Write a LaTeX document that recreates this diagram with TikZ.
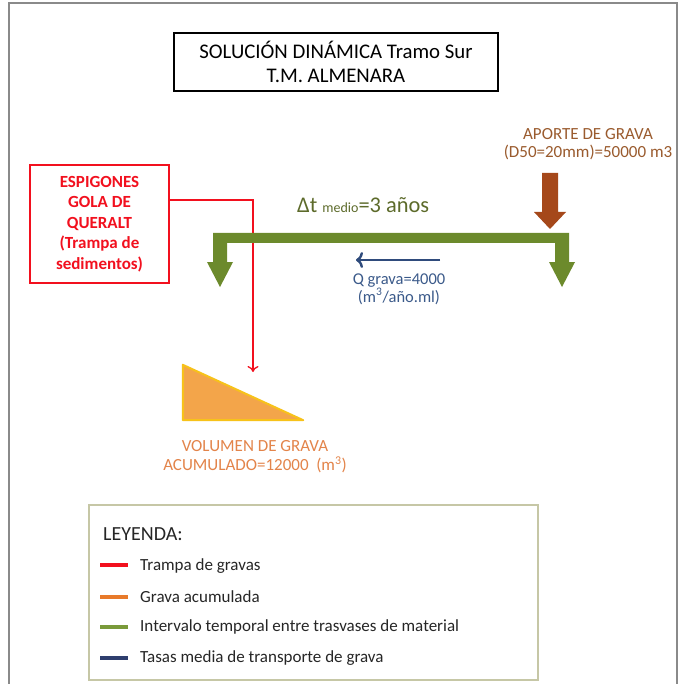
\documentclass[tikz,border=0pt]{standalone}
\usepackage{fontspec}
\setmainfont{Carlito}
\usetikzlibrary{arrows.meta}
\definecolor{framegray}{HTML}{8A8A8A}
\definecolor{trapred}{HTML}{F2101E}
\definecolor{brownarrow}{HTML}{A5481A}
\definecolor{browntext}{HTML}{9A5B2E}
\definecolor{barGreen}{HTML}{6C8A2C}
\definecolor{dtgreen}{HTML}{5D6B2B}
\definecolor{qblue}{HTML}{2F4B7C}
\definecolor{qtext}{HTML}{3B5A8A}
\definecolor{trifill}{HTML}{F3A54A}
\definecolor{triborder}{HTML}{F7C21A}
\definecolor{voltext}{HTML}{E3844A}
\definecolor{legborder}{HTML}{C6C7A6}
\definecolor{legorange}{HTML}{E87A2A}
\definecolor{leggreen}{HTML}{7A9A3A}
\definecolor{legblue}{HTML}{2E3E6E}
\tikzset{
  legtext/.style={anchor=west, font=\fontsize{17}{19}\selectfont, text=black!85},
  swatch/.style={line width=4}
}
\begin{document}
\begin{tikzpicture}[x=1pt,y=-1pt]
\useasboundingbox (0,0) rectangle (680,684);
\fill[white] (0,0) rectangle (680,684);
\draw[framegray, line width=2] (9,684) -- (9,3) -- (677,3) -- (677,684);

% title
\node[draw, line width=1.2, minimum width=324, minimum height=58, align=center,
      font=\fontsize{20.8}{24}\selectfont, inner sep=0] (title) at (336,62)
      {SOLUCIÓN DINÁMICA Tramo Sur\\T.M. ALMENARA};

% red box
\node[draw=trapred, line width=1.3, minimum width=139, minimum height=118, align=center,
      text=trapred, font=\bfseries\fontsize{17}{20.5}\selectfont, inner sep=0] (trap) at (99.5,224)
      {ESPIGONES\\GOLA DE\\QUERALT\\(Trampa de\\sedimentos)};

% triangle of accumulated gravel
\node[minimum width=120, minimum height=55, inner sep=0] (tri) at (243,392.5) {};
\fill[trifill, draw=triborder, line width=2, line join=round]
  (tri.north west) -- (tri.south west) -- (tri.south east) -- cycle;

% red connector
\coordinate (trapout) at (169,200);
\coordinate (traptip) at (253,372);
\draw[trapred, line width=1.3, -{To[length=6pt,width=11pt]}] (trapout) -| (traptip);

% green time interval bar
\fill[barGreen] (213,233) rectangle (569,243)
  (213,243) rectangle (227,262)
  (207,262) -- (233,262) -- (220,287) -- cycle
  (555,243) rectangle (569,262)
  (549,262) -- (575,262) -- (562,287) -- cycle;
\node[anchor=base west, text=dtgreen, font=\fontsize{22.4}{26}\selectfont, inner sep=0] (dt) at (297,213)
  {Δt {\fontsize{14}{16}\selectfont medio}=3 años};

% brown input arrow
\fill[brownarrow] (542,173) rectangle (558,212)
  (534,212) -- (566,212) -- (550,229) -- cycle;
\node[align=center, text=browntext, font=\fontsize{17}{18}\selectfont, inner sep=0] (aporte) at (588,144)
  {APORTE DE GRAVA\\(D50=20mm)=50000 m3};

% blue transport arrow
\coordinate (qstart) at (440,260);
\coordinate (qend) at (356,260);
\draw[qblue, line width=2.4, -{To[length=7pt,width=16pt]}] (qstart) -- (qend);
\node[align=center, text=qtext, font=\fontsize{16.5}{18}\selectfont, inner sep=0] (q) at (399,289)
  {Q grava=4000\\(m\textsuperscript{3}/año.ml)};

% volume text
\node[align=center, text=voltext, font=\fontsize{17}{19}\selectfont, inner sep=0] (vol) at (255,457)
  {VOLUMEN DE GRAVA\\ACUMULADO=12000~ (m\textsuperscript{3})};

% legend
\node[draw=legborder, line width=1.2, minimum width=449, minimum height=175] (leg) at (313.5,592.5) {};
\node[anchor=west, font=\fontsize{20}{22}\selectfont, text=black!85, inner sep=0] (leytitle) at (103,534) {LEYENDA:};
\draw[swatch, trapred] (100,565) -- (128,565);
\node[legtext, inner sep=0] (l1) at (140,566) {Trampa de gravas};
\draw[swatch, legorange] (100,597) -- (128,597);
\node[legtext, inner sep=0] (l2) at (140,597) {Grava acumulada};
\draw[swatch, leggreen] (100,627) -- (128,627);
\node[legtext, inner sep=0] (l3) at (140,627) {Intervalo temporal entre trasvases de material};
\draw[swatch, legblue] (100,658) -- (128,658);
\node[legtext, inner sep=0] (l4) at (140,658) {Tasas media de transporte de grava};
\end{tikzpicture}
\end{document}
